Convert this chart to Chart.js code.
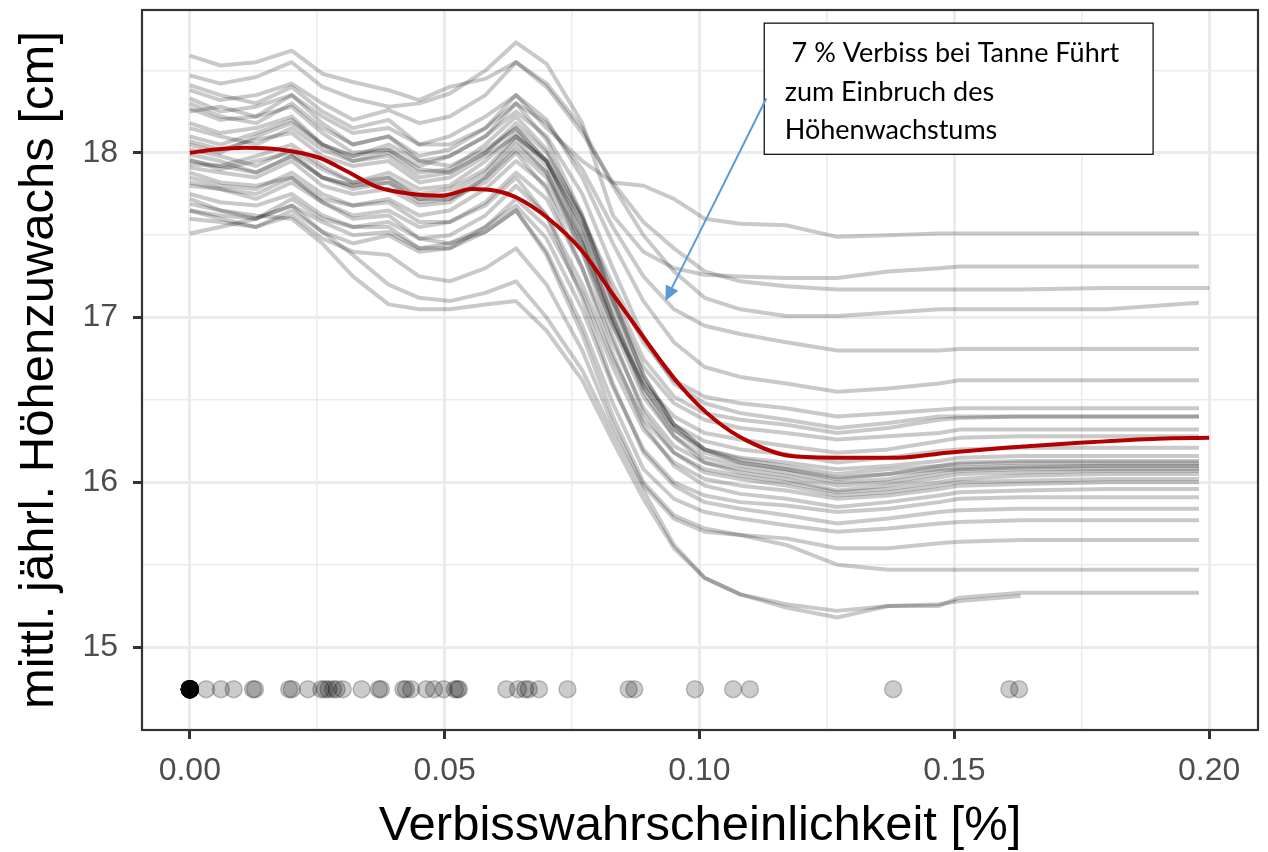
<!DOCTYPE html>
<html>
<head>
<meta charset="utf-8">
<script src="https://cdn.jsdelivr.net/npm/chart.js@4.4.1/dist/chart.umd.min.js"></script>
<style>
html,body{margin:0;padding:0;background:#fff;}
canvas{display:block;}
</style>
</head>
<body>
<canvas id="c" width="1268" height="852"></canvas>
<script>
// ---------- DATA ----------
const xGrid = [0,0.006,0.013,0.020,0.026,0.032,0.039,0.045,0.051,0.058,0.064,0.070,0.077,0.083,0.089,0.095,0.101,0.108,0.117,0.127,0.137,0.147,0.151,0.163,0.180,0.198,0.200];

const ice01 = [18.25,18.28,18.22,18.35,18.22,18.12,18.15,18.05,18.10,18.22,18.35,18.15,17.95,17.82,17.80,17.72,17.60,17.57,17.56,17.49,17.50,17.51,17.51,17.51,17.51,17.51,null];
const ice02 = [18.47,18.42,18.46,18.55,18.40,18.33,18.28,18.30,18.36,18.50,18.67,18.54,18.18,17.62,17.40,17.30,17.26,17.25,17.24,17.24,17.28,17.30,17.31,17.31,17.31,17.31,null];
const ice03 = [18.59,18.53,18.55,18.62,18.48,18.43,18.38,18.32,18.40,18.45,18.55,18.40,18.12,17.82,17.58,17.42,17.28,17.22,17.19,17.17,17.17,17.17,17.17,17.17,17.18,17.18,17.18];
const ice04 = [18.38,18.32,18.35,18.42,18.30,18.20,18.26,18.18,18.22,18.35,18.55,18.42,18.15,17.80,17.50,17.28,17.12,17.05,17.01,17.01,17.03,17.05,17.05,17.05,17.05,17.09,null];
const ice05 = [18.10,18.05,18.12,18.20,18.05,17.98,18.02,17.92,17.98,18.10,18.30,18.18,17.90,17.55,17.25,17.05,16.95,16.90,16.85,16.80,16.80,16.80,16.81,16.81,16.81,16.81,null];
const ice06 = [18.30,18.22,18.18,18.30,18.15,18.05,18.10,17.98,18.02,18.15,18.35,18.20,17.85,17.45,17.10,16.85,16.70,16.64,16.60,16.55,16.57,16.60,16.62,16.62,16.62,16.62,null];
const ice07 = [17.95,17.92,17.88,17.98,17.85,17.80,17.85,17.75,17.78,17.90,18.10,17.95,17.60,17.20,16.85,16.62,16.52,16.48,16.45,16.40,16.42,16.44,16.45,16.45,16.45,16.45,null];
const ice08 = [18.15,18.10,18.05,18.15,18.02,17.95,17.98,17.85,17.88,18.00,18.18,18.00,17.62,17.15,16.75,16.52,16.42,16.38,16.35,16.30,16.33,16.38,16.39,16.40,16.40,16.40,null];
const ice09 = [18.07,18.02,18.08,18.12,17.98,17.92,17.95,17.82,17.85,17.98,18.10,17.95,17.55,17.10,16.70,16.48,16.38,16.33,16.30,16.26,16.28,16.30,16.32,16.32,16.32,16.32,null];
const ice10 = [17.82,17.78,17.75,17.85,17.72,17.68,17.72,17.62,17.65,17.78,17.95,17.80,17.40,16.95,16.60,16.40,16.30,16.26,16.22,16.18,16.20,16.25,16.27,16.28,16.28,16.28,null];
const ice11 = [18.33,18.25,18.28,18.35,18.18,18.05,18.10,17.95,17.92,18.02,18.15,17.95,17.55,17.05,16.62,16.35,16.25,16.20,16.17,16.12,16.15,16.19,16.20,16.21,16.21,16.21,null];
const ice12 = [17.91,17.88,17.85,17.95,17.80,17.75,17.78,17.68,17.70,17.85,18.02,17.85,17.45,16.98,16.58,16.32,16.20,16.15,16.12,16.08,16.10,16.13,16.15,16.16,16.16,16.16,null];
const ice13 = [18.18,18.12,18.15,18.22,18.05,17.95,18.00,17.88,17.90,18.05,18.22,18.02,17.60,17.12,16.65,16.35,16.20,16.12,16.08,16.02,16.05,16.10,16.12,16.13,16.13,16.13,null];
const ice14 = [17.99,17.95,17.88,17.98,17.85,17.78,17.82,17.70,17.72,17.85,18.05,17.88,17.45,16.95,16.52,16.28,16.15,16.10,16.06,16.00,16.02,16.07,16.08,16.09,16.10,16.10,null];
const ice15 = [17.80,17.78,17.72,17.82,17.70,17.62,17.65,17.55,17.58,17.70,17.88,17.72,17.30,16.85,16.45,16.22,16.12,16.08,16.04,15.98,16.00,16.05,16.07,16.08,16.08,16.08,null];
const ice16 = [18.27,18.20,18.22,18.28,18.12,18.00,18.02,17.90,17.88,18.00,18.15,17.95,17.50,17.00,16.55,16.28,16.12,16.06,16.02,15.95,15.98,16.03,16.05,16.06,16.07,16.07,null];
const ice17 = [17.69,17.65,17.60,17.72,17.60,17.55,17.58,17.48,17.50,17.62,17.80,17.62,17.20,16.75,16.38,16.18,16.08,16.04,16.00,15.94,15.96,16.00,16.02,16.04,16.05,16.05,null];
const ice18 = [17.96,17.90,17.95,18.00,17.85,17.80,17.82,17.72,17.75,17.88,18.08,17.88,17.40,16.88,16.42,16.18,16.06,16.02,15.98,15.92,15.94,15.98,16.00,16.01,16.02,16.02,null];
const ice19 = [17.65,17.60,17.55,17.65,17.52,17.45,17.50,17.40,17.42,17.55,17.72,17.55,17.15,16.70,16.32,16.12,16.02,15.98,15.95,15.90,15.92,15.96,15.98,15.99,16.00,16.00,null];
const ice20 = [18.02,17.98,17.92,18.02,17.90,17.82,17.85,17.72,17.72,17.82,18.00,17.78,17.30,16.78,16.35,16.10,15.98,15.93,15.90,15.85,15.88,15.92,15.94,15.95,15.96,15.96,null];
const ice21 = [17.51,17.55,17.60,17.68,17.58,17.50,17.52,17.42,17.45,17.55,17.68,17.48,17.05,16.58,16.20,16.00,15.92,15.88,15.86,15.82,15.84,15.88,15.90,15.91,15.91,15.91,null];
const ice22 = [17.85,17.80,17.78,17.88,17.75,17.68,17.70,17.58,17.58,17.68,17.85,17.62,17.12,16.60,16.18,15.98,15.88,15.84,15.80,15.75,15.78,15.82,15.83,15.84,15.84,15.84,null];
const ice23 = [17.75,17.70,17.68,17.75,17.62,17.55,17.55,17.42,17.42,17.52,17.65,17.40,16.95,16.48,16.08,15.90,15.82,15.78,15.74,15.70,15.72,15.75,15.76,15.77,15.77,15.77,null];
const ice24 = [17.60,17.58,17.55,17.62,17.48,17.40,17.38,17.25,17.22,17.30,17.42,17.20,16.80,16.35,15.98,15.78,15.70,15.68,15.66,15.60,15.60,15.63,15.64,15.65,15.65,15.65,null];
const ice25 = [17.88,17.82,17.80,17.85,17.70,17.60,17.62,17.48,17.45,17.52,17.65,17.38,16.90,16.40,16.00,15.80,15.72,15.68,15.62,15.50,15.47,15.47,15.47,15.47,15.47,15.47,null];
const ice26 = [17.72,17.65,17.62,17.60,17.45,17.25,17.08,17.05,17.05,17.08,17.10,16.92,16.62,16.25,15.90,15.60,15.42,15.32,15.26,15.22,15.25,15.25,15.30,15.33,15.33,15.33,null];
const ice27 = [17.65,17.62,17.60,17.68,17.52,17.38,17.20,17.12,17.10,17.15,17.22,17.00,16.68,16.30,15.95,15.62,15.42,15.32,15.24,15.18,15.25,15.26,15.28,15.31,null,null,null];
const ice28 = [18.41,18.35,18.30,18.40,18.25,18.15,18.20,18.05,18.05,18.15,18.30,18.08,17.62,17.10,16.65,16.35,16.20,16.14,16.10,16.05,16.08,16.10,16.11,16.12,16.12,16.12,null];
const ice29 = [17.93,17.92,17.98,18.05,17.92,17.82,17.88,17.78,17.80,17.95,18.12,17.92,17.48,17.00,16.58,16.32,16.18,16.12,16.08,16.03,16.05,16.08,16.09,16.10,16.10,16.10,null];
const ice30 = [18.05,18.00,18.10,18.18,18.05,17.98,18.05,17.95,17.98,18.10,18.25,18.10,17.75,17.30,16.88,16.60,16.48,16.42,16.38,16.33,16.36,16.40,16.40,16.40,16.40,16.40,null];
const iceSeries = [ice01,ice02,ice03,ice04,ice05,ice06,ice07,ice08,ice09,ice10,ice11,ice12,ice13,ice14,ice15,ice16,ice17,ice18,ice19,ice20,ice21,ice22,ice23,ice24,ice25,ice26,ice27,ice28,ice29,ice30];

const meanX = [0,0.005,0.011,0.0176,0.0254,0.0307,0.037,0.0436,0.0495,0.0553,0.060,0.064,0.0704,0.0768,0.0835,0.0964,0.103,0.1095,0.118,0.128,0.139,0.1486,0.160,0.1746,0.190,0.200];
const meanY = [18.00,18.02,18.03,18.02,17.97,17.89,17.79,17.75,17.74,17.78,17.77,17.73,17.60,17.41,17.12,16.58,16.38,16.25,16.16,16.15,16.15,16.18,16.21,16.24,16.265,16.27];

const rugX = [0,0,0,0,0,0,0,0,0,0,0,0,0,0,0,0,0,0,0,0,
  0.0032,0.0061,0.0086,0.0124,0.0128,0.0195,0.0200,0.0232,0.0258,0.0265,0.0272,0.0281,0.0288,0.0300,
  0.0337,0.0371,0.0375,0.0419,0.0424,0.0434,0.0464,0.0479,0.0498,0.0520,0.0525,0.0528,
  0.0621,0.0644,0.0658,0.0665,0.0685,0.0741,0.0861,0.0872,0.0991,0.1066,0.1099,0.1380,0.1608,0.1627];
const rugLevel = 14.745;

const xTickValues = [0,0.025,0.05,0.075,0.10,0.125,0.15,0.175,0.20];
const yTickValues = [15,15.5,16,16.5,17,17.5,18,18.5];

const xTitle = 'Verbisswahrscheinlichkeit [%]';
const yTitle = 'mittl. jährl. Höhenzuwachs [cm]';

const noteLines = [' 7 % Verbiss bei Tanne Führt', 'zum Einbruch des', 'Höhenwachstums'];
const noteBoxX = [0.1126, 0.1889];
const noteBoxY = [18.79, 17.994];
const arrowFrom = [0.1131, 18.33];
const arrowTo = [0.0933, 17.10];

// ---------- CHART ----------
const FONT = "'Liberation Sans', Arial, Helvetica, sans-serif";
const isMajorX = v => Math.abs(Math.round(v / 0.05) * 0.05 - v) < 1e-9;
const isMajorY = v => Math.abs(Math.round(v) - v) < 1e-9;

const datasets = [];
datasets.push({
  type: 'line',
  data: meanX.map((x, i) => ({x, y: meanY[i]})),
  borderColor: '#b30000',
  borderWidth: 4,
  pointRadius: 0,
  fill: false,
  tension: 0.4,
  cubicInterpolationMode: 'monotone',
  order: 0
});
iceSeries.forEach(arr => {
  datasets.push({
    type: 'line',
    data: xGrid.map((x, i) => ({x, y: arr[i]})),
    borderColor: 'rgba(0,0,0,0.21)',
    borderWidth: 4,
    pointRadius: 0,
    fill: false,
    tension: 0,
    spanGaps: false,
    borderJoinStyle: 'round',
    order: 2
  });
});
datasets.push({
  type: 'scatter',
  data: rugX.map(x => ({x, y: rugLevel})),
  backgroundColor: 'rgba(0,0,0,0.2)',
  borderColor: 'rgba(0,0,0,0.22)',
  borderWidth: 1.5,
  pointRadius: 8.5,
  order: 1
});

const panelPlugin = {
  id: 'panel',
  afterDatasetsDraw(chart) {
    const {ctx, chartArea: a, scales: {x, y}} = chart;
    ctx.save();
    const bx0 = x.getPixelForValue(noteBoxX[0]), bx1 = x.getPixelForValue(noteBoxX[1]);
    const by0 = y.getPixelForValue(noteBoxY[0]), by1 = y.getPixelForValue(noteBoxY[1]);
    ctx.fillStyle = '#fff';
    ctx.fillRect(bx0, by0, bx1 - bx0, by1 - by0);
    ctx.strokeStyle = '#000';
    ctx.lineWidth = 1.2;
    ctx.strokeRect(bx0 + 0.5, by0 + 0.5, bx1 - bx0, by1 - by0);
    ctx.fillStyle = '#000';
    ctx.font = "27px Lato, 'Open Sans', sans-serif";
    ctx.textBaseline = 'middle';
    ctx.textAlign = 'left';
    noteLines.forEach((t, i) => {
      ctx.fillText(t, bx0 + 21, by0 + 31 + i * 38.5);
    });
    const ax0 = x.getPixelForValue(arrowFrom[0]), ay0 = y.getPixelForValue(arrowFrom[1]);
    const ax1 = x.getPixelForValue(arrowTo[0]), ay1 = y.getPixelForValue(arrowTo[1]);
    const ang = Math.atan2(ay1 - ay0, ax1 - ax0);
    const hl = 15, hw = 7;
    ctx.strokeStyle = '#5b9bd5';
    ctx.fillStyle = '#5b9bd5';
    ctx.lineWidth = 2;
    ctx.beginPath();
    ctx.moveTo(ax0, ay0);
    ctx.lineTo(ax1 - Math.cos(ang) * hl * 0.8, ay1 - Math.sin(ang) * hl * 0.8);
    ctx.stroke();
    ctx.beginPath();
    ctx.moveTo(ax1, ay1);
    ctx.lineTo(ax1 - Math.cos(ang) * hl - Math.sin(ang) * hw, ay1 - Math.sin(ang) * hl + Math.cos(ang) * hw);
    ctx.lineTo(ax1 - Math.cos(ang) * hl + Math.sin(ang) * hw, ay1 - Math.sin(ang) * hl - Math.cos(ang) * hw);
    ctx.closePath();
    ctx.fill();
    ctx.strokeStyle = '#333333';
    ctx.lineWidth = 2.2;
    ctx.strokeRect(a.left, a.top, a.right - a.left, a.bottom - a.top);
    ctx.restore();
  }
};

const zeroPad = s => { s.paddingTop = 0; s.paddingBottom = 0; s.paddingLeft = 0; s.paddingRight = 0; };

new Chart(document.getElementById('c'), {
  data: {datasets},
  plugins: [panelPlugin],
  options: {
    responsive: false,
    animation: false,
    events: [],
    layout: {padding: {top: 9, right: 6, left: 0, bottom: 0}},
    plugins: {legend: {display: false}, tooltip: {enabled: false}},
    scales: {
      x: {
        type: 'linear',
        min: -0.00938,
        max: 0.20958,
        afterBuildTicks: s => { s.ticks = xTickValues.map(v => ({value: v})); },
        afterFit: s => { s.height = 122; zeroPad(s); },
        border: {display: false},
        grid: {
          color: '#ebebeb',
          lineWidth: c => (c.tick && isMajorX(c.tick.value)) ? 3 : 1.5,
          tickColor: c => (c.tick && isMajorX(c.tick.value)) ? '#333333' : 'rgba(0,0,0,0)',
          tickWidth: 3,
          tickLength: 9,
          drawTicks: true
        },
        ticks: {
          autoSkip: false,
          maxRotation: 0,
          padding: 13,
          color: '#4d4d4d',
          font: {family: FONT, size: 32},
          callback: v => isMajorX(v) ? Number(v).toFixed(2) : ''
        },
        title: {
          display: true,
          text: xTitle,
          color: '#000',
          font: {family: FONT, size: 49, lineHeight: 1.06},
          padding: {top: 0, bottom: 0}
        }
      },
      y: {
        type: 'linear',
        min: 14.497,
        max: 18.8667,
        afterBuildTicks: s => { s.ticks = yTickValues.map(v => ({value: v})); },
        afterFit: s => { s.width = 142; zeroPad(s); },
        border: {display: false},
        grid: {
          color: '#ebebeb',
          lineWidth: c => (c.tick && isMajorY(c.tick.value)) ? 3 : 1.5,
          tickColor: c => (c.tick && isMajorY(c.tick.value)) ? '#333333' : 'rgba(0,0,0,0)',
          tickWidth: 3,
          tickLength: 9,
          drawTicks: true
        },
        ticks: {
          autoSkip: false,
          padding: 15,
          color: '#4d4d4d',
          font: {family: FONT, size: 32},
          callback: v => isMajorY(v) ? String(Math.round(v)) : ''
        },
        title: {
          display: true,
          text: yTitle,
          color: '#000',
          font: {family: FONT, size: 49, lineHeight: 1.06},
          padding: {top: 14, bottom: 0}
        }
      }
    }
  }
});
</script>
</body>
</html>
